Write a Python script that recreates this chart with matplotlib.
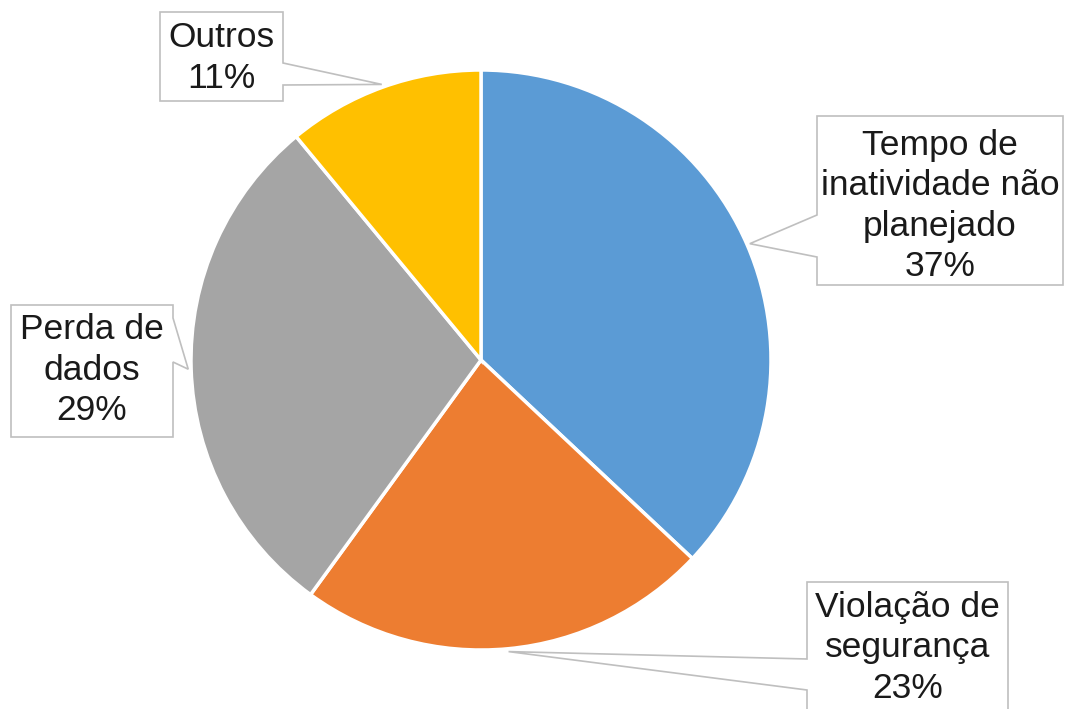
import numpy as np
import matplotlib
matplotlib.use('Agg')
import matplotlib.pyplot as plt
from matplotlib.patches import Polygon

plt.rcParams['font.family'] = ['Liberation Sans', 'DejaVu Sans']

labels = ['Tempo de\ninatividade não\nplanejado', 'Violação de\nsegurança', 'Perda de\ndados', 'Outros']
values = [37, 23, 29, 11]
colors = ['#5B9BD5', '#ED7D31', '#A5A5A5', '#FFC000']

W, H = 1065, 709
cx, cy, R = 481, 360, 290   # pie centre / radius in pixels (y from top)

# callout boxes: left, top, right, bottom (pixels from top-left), pointer side, pointer base y-range
boxes = [
    (817, 116, 1063, 285, 'left', (215, 257)),
    (807, 582, 1008, 730, 'left', (659, 690)),
    (11, 305, 173, 437, 'right', (318, 362)),
    (160, 12, 283, 101, 'right', (63, 85)),
]
text_y = [206, 648, 370, 58]

fig = plt.figure(figsize=(W / 100, H / 100), dpi=100)
ax = fig.add_axes([0, 0, 1, 1])

ax.pie(values, colors=colors, startangle=90, counterclock=False, radius=R,
       center=(cx, H - cy), wedgeprops=dict(edgecolor='white', linewidth=2.5))

total = sum(values)
cum = 0
for i, v in enumerate(values):
    mid = np.radians(90 - 360 * (cum + v / 2) / total)
    cum += v
    tx = cx + 1.01 * R * np.cos(mid)
    ty = (H - cy) + 1.01 * R * np.sin(mid)
    l, t, r, b, side, (y1, y2) = boxes[i]
    t, b, y1, y2 = H - t, H - b, H - y1, H - y2
    if side == 'left':
        pts = [(l, t), (r, t), (r, b), (l, b), (l, y2), (tx, ty), (l, y1)]
    else:
        pts = [(l, t), (r, t), (r, y1), (tx, ty), (r, y2), (r, b), (l, b)]
    ax.add_patch(Polygon(pts, closed=True, facecolor='white', edgecolor='#BFBFBF',
                         linewidth=1.2, zorder=3))
    ax.text((l + r) / 2, H - text_y[i], f'{labels[i]}\n{v}%', ha='center', va='center',
            fontsize=25.5, color='#1a1a1a', linespacing=1.27, zorder=4)

ax.set_xlim(0, W)
ax.set_ylim(0, H)
ax.set_aspect('auto')
ax.axis('off')

fig.savefig('out.png', dpi=100)
